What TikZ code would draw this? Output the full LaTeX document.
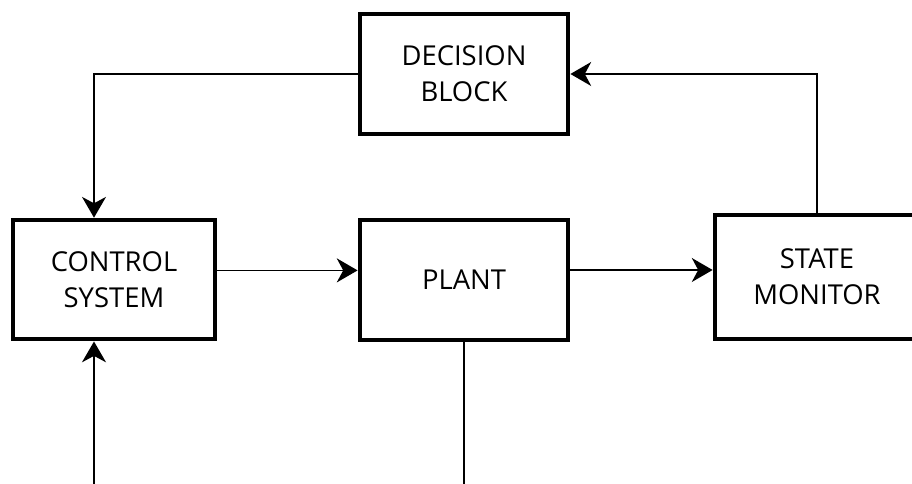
\documentclass[tikz,border=0pt]{standalone}
\usepackage{fontspec}
\setmainfont{Open Sans}
\usetikzlibrary{arrows.meta}

\begin{document}
\begin{tikzpicture}[
  box/.style={draw, line width=3.4pt, minimum width=5.2cm, minimum height=3cm,
              align=center, font=\fontsize{19.5}{25.5}\selectfont},
  arr/.style={-{Stealth[length=5.2mm, width=6mm, inset=1.6mm]}, line width=1.2pt},
  wire/.style={line width=1.2pt}
]
  \useasboundingbox (0,0) rectangle (22.8,12.1);
  \clip (0,0) rectangle (22.8,12.1);
  % Blocks
  \node[box] (dec)   at (11.6,10.25)  {DECISION\\BLOCK};
  \node[box, minimum width=5.05cm, minimum height=2.975cm] (ctrl) at (2.85,5.11) {CONTROL\\SYSTEM};
  \node[box] (plant) at (11.6,5.1)    {PLANT};
  \node[box, minimum width=5.1cm, minimum height=3.1cm] (mon) at (20.425,5.175) {STATE\\MONITOR};
  % Loose ends below
  \coordinate (fbin) at (2.35,-0.3);
  \coordinate (pout) at (11.6,-0.3);

  \draw[arr]  ([yshift=2.3mm]ctrl.east) -- ([yshift=2.3mm]ctrl.east -| plant.west);
  \draw[arr]  ([yshift=2.5mm]plant.east) -- ([yshift=2.5mm]plant.east -| mon.west);
  \draw[arr]  (mon.north) |- (dec.east);
  \draw[arr]  (dec.west) -| ([xshift=-5mm]ctrl.north);
  \draw[arr]  (fbin) -- (fbin |- ctrl.south);
  \draw[wire] (plant.south) -- (pout);
\end{tikzpicture}
\end{document}
